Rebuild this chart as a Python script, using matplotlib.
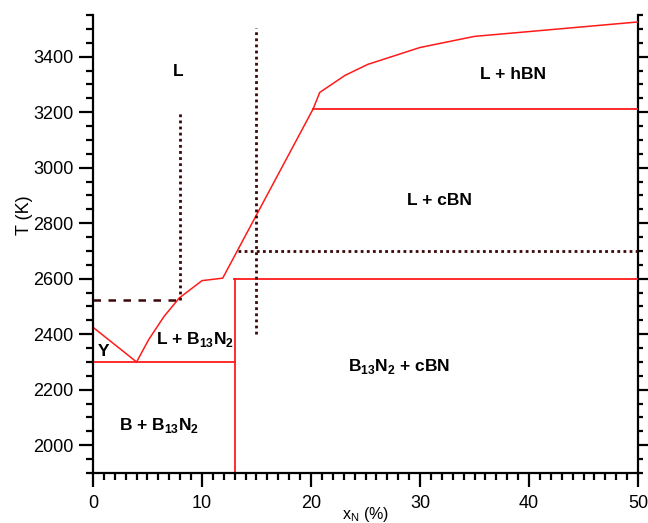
import numpy as np
import matplotlib
matplotlib.use("Agg")
import matplotlib.pyplot as plt
from matplotlib.ticker import MultipleLocator, NullFormatter

plt.rcParams['font.family'] = ['Liberation Sans', 'DejaVu Sans']
plt.rcParams['mathtext.fontset'] = 'custom'
plt.rcParams['mathtext.rm'] = 'Liberation Sans'
plt.rcParams['mathtext.bf'] = 'Liberation Sans:bold'

# liquidus, left branch down to the eutectic
liq_left_x = [0, 4]
liq_left_T = [2425, 2300]
# liquidus from the eutectic up to the B13N2 peritectic and on to the hBN line
liq_x = [4, 5.1, 6.5, 7.9, 10.0, 11.9, 20.2]
liq_T = [2300, 2380, 2463, 2530, 2593, 2602, 3212]
# liquidus above the L + hBN line
liq_top_x = [20.2, 20.8, 23.1, 25.2, 30, 35, 50]
liq_top_T = [3212, 3271, 3332, 3372, 3433, 3473, 3525]

# isotherms (x start, x end, T)
eutectic = (0, 13, 2300)
peritectic = (12.9, 50, 2600)
hbn_line = (20.2, 50, 3212)
b13n2_x = 13

# dashed / dotted guide lines
guide_h1 = (0, 8, 2525)
guide_v1 = (8, 2525, 3205)
guide_v2 = (15, 2400, 3505)
guide_h2 = (13.3, 50, 2700)

labels = [
    (7.8, 3345, "L"),
    (38.5, 3337, "L + hBN"),
    (31.8, 2882, "L + cBN"),
    (9.4, 2380, "L + B$_{\\mathbf{13}}$N$_{\\mathbf{2}}$"),
    (1.0, 2338, "Y"),
    (28.1, 2285, "B$_{\\mathbf{13}}$N$_{\\mathbf{2}}$ + cBN"),
    (6.1, 2072, "B + B$_{\\mathbf{13}}$N$_{\\mathbf{2}}$"),
]

red = '#ff1a1a'
dark = '#3a0808'

fig = plt.figure(figsize=(6.48, 5.23), dpi=100)
ax = fig.add_axes([0.1435, 0.0956, 0.8411, 0.8757])

ax.plot(liq_left_x, liq_left_T, color=red, lw=1.1)
ax.plot(liq_x, liq_T, color=red, lw=1.1)
ax.plot(liq_top_x, liq_top_T, color=red, lw=1.1)
for x0, x1, t in (eutectic, peritectic, hbn_line):
    ax.plot([x0, x1], [t, t], color=red, lw=1.3)
ax.plot([b13n2_x, b13n2_x], [1900, 2600], color=red, lw=1.3)

ax.plot([guide_h1[0], guide_h1[1]], [guide_h1[2]] * 2, color=dark, lw=1.8,
        dashes=(3, 3))
ax.plot([guide_v1[0]] * 2, [guide_v1[1], guide_v1[2]], color=dark, lw=2,
        dashes=(1, 1.2))
ax.plot([guide_v2[0]] * 2, [guide_v2[1], guide_v2[2]], color=dark, lw=2,
        dashes=(1, 1.2))
ax.plot([guide_h2[0], guide_h2[1]], [guide_h2[2]] * 2, color=dark, lw=2,
        dashes=(1, 1.2))

for x, t, s in labels:
    ax.text(x, t, s, ha='center', va='center', fontsize=12.5, fontweight='bold')

ax.set_xlim(0, 50)
ax.set_ylim(1900, 3550)
ax.xaxis.set_major_locator(MultipleLocator(10))
ax.xaxis.set_minor_locator(MultipleLocator(1))
ax.yaxis.set_major_locator(MultipleLocator(200))
ax.yaxis.set_minor_locator(MultipleLocator(50))

ax.spines['top'].set_visible(False)
ax.spines['right'].set_visible(False)
for s in ('left', 'bottom'):
    ax.spines[s].set_linewidth(1.6)

ax.tick_params(axis='both', which='major', direction='out', length=10,
               width=1.6, labelsize=13)
ax.tick_params(axis='both', which='minor', direction='out', length=5,
               width=1.6)
ax.tick_params(axis='x', which='major', pad=6)
ax.tick_params(axis='y', which='major', pad=4)

# right side: shorter ticks, no labels
sec = ax.secondary_yaxis('right')
sec.yaxis.set_major_locator(MultipleLocator(200))
sec.yaxis.set_minor_locator(MultipleLocator(50))
sec.yaxis.set_major_formatter(NullFormatter())
sec.spines['right'].set_linewidth(1.6)
sec.tick_params(which='major', direction='out', length=7, width=1.6)
sec.tick_params(which='minor', direction='out', length=3.5, width=1.6)

ax.set_ylabel("T (K)", fontsize=13)
ax.yaxis.set_label_coords(-0.11, 0.563)
ax.set_xlabel("x$_\\mathrm{N}$ (%)", fontsize=11.5)
ax.xaxis.set_label_coords(0.5, -0.069)

fig.savefig("out.png", dpi=100)
